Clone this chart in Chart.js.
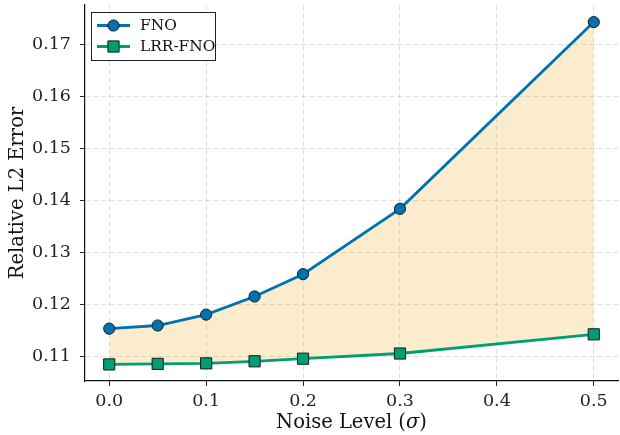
<!DOCTYPE html>
<html>
<head>
<meta charset="utf-8">
<script src="https://cdn.jsdelivr.net/npm/chart.js@4/dist/chart.umd.min.js"></script>
<style>
html,body{margin:0;padding:0;background:#fff;}
#wrap{width:620px;height:435px;position:relative;}
</style>
</head>
<body>
<div id="wrap"><canvas id="c" width="620" height="435"></canvas></div>
<script>
const noiseLevels = [0.0, 0.05, 0.1, 0.15, 0.2, 0.3, 0.5];
const fnoErrors = [0.1153, 0.1159, 0.1180, 0.1215, 0.1258, 0.1384, 0.1744];
const lrrErrors = [0.1084, 0.1085, 0.1086, 0.1090, 0.1095, 0.1105, 0.1142];
const seriesNames = ['FNO', 'LRR-FNO'];
const xTicks = [0.0, 0.1, 0.2, 0.3, 0.4, 0.5];
const yTicks = [0.11, 0.12, 0.13, 0.14, 0.15, 0.16, 0.17];
const xTitleParts = ['Noise Level (', 'σ', ')'];

const FONT = "'DejaVu Serif', serif";
const BLUE = '#0072B2', GREEN = '#009E73', EDGE = '#1a1a1a';

const legendPlugin = {
  id: 'boxLegend',
  afterDraw(chart) {
    const ctx = chart.ctx;
    const x0 = 91.5, y0 = 12.5, w = 124, h = 48;
    ctx.save();
    ctx.fillStyle = 'rgba(255,255,255,0.85)';
    ctx.fillRect(x0, y0, w, h);
    ctx.strokeStyle = '#222';
    ctx.lineWidth = 1;
    ctx.strokeRect(x0, y0, w, h);
    chart.data.datasets.forEach((ds, i) => {
      const cy = 25.5 + i * 21;
      ctx.strokeStyle = ds.borderColor;
      ctx.lineWidth = 2.8;
      ctx.beginPath(); ctx.moveTo(97, cy); ctx.lineTo(130, cy); ctx.stroke();
      ctx.fillStyle = ds.pointBackgroundColor;
      ctx.strokeStyle = EDGE; ctx.lineWidth = 1;
      ctx.beginPath();
      if (ds.pointStyle === 'rect') { ctx.rect(113.5 - 5.6, cy - 5.6, 11.2, 11.2); }
      else { ctx.arc(113.5, cy, 5.6, 0, Math.PI * 2); }
      ctx.fill(); ctx.stroke();
      ctx.fillStyle = '#111';
      ctx.font = '15.4px ' + FONT;
      ctx.textBaseline = 'middle';
      ctx.textAlign = 'left';
      ctx.fillText(ds.label, 140, cy + 0.5);
    });
    ctx.restore();
  }
};

const xTitlePlugin = {
  id: 'xTitle',
  afterDraw(chart) {
    const ctx = chart.ctx;
    const area = chart.chartArea;
    ctx.save();
    ctx.fillStyle = '#111';
    ctx.textBaseline = 'middle';
    ctx.textAlign = 'left';
    const fonts = ['19.5px ' + FONT, 'italic 19.5px ' + FONT, '19.5px ' + FONT];
    let total = 0;
    const widths = xTitleParts.map((t, i) => { ctx.font = fonts[i]; const w = ctx.measureText(t).width; total += w; return w; });
    let x = (area.left + area.right) / 2 - total / 2;
    xTitleParts.forEach((t, i) => { ctx.font = fonts[i]; ctx.fillText(t, x, 423); x += widths[i]; });
    ctx.restore();
  }
};

new Chart(document.getElementById('c'), {
  type: 'line',
  data: {
    datasets: [
      {
        label: seriesNames[0],
        data: noiseLevels.map((x, i) => ({x: x, y: fnoErrors[i]})),
        borderColor: BLUE, borderWidth: 2.8,
        pointStyle: 'circle', pointRadius: 5.6, pointBackgroundColor: BLUE,
        pointBorderColor: EDGE, pointBorderWidth: 1,
        backgroundColor: 'rgba(230,159,0,0.2)',
        fill: '+1', tension: 0, clip: false
      },
      {
        label: seriesNames[1],
        data: noiseLevels.map((x, i) => ({x: x, y: lrrErrors[i]})),
        borderColor: GREEN, borderWidth: 2.8,
        pointStyle: 'rect', pointRadius: 7.9, pointBackgroundColor: GREEN,
        pointBorderColor: EDGE, pointBorderWidth: 1,
        fill: false, tension: 0, clip: false
      }
    ]
  },
  options: {
    responsive: false,
    animation: false,
    layout: {autoPadding: false, padding: {top: 5, right: 2, left: 0, bottom: 0}},
    plugins: {
      legend: {display: false},
      tooltip: {enabled: false},
      filler: {drawTime: 'beforeDatasetsDraw'}
    },
    scales: {
      x: {
        type: 'linear', min: -0.025, max: 0.525,
        afterBuildTicks: s => { s.ticks = xTicks.map(v => ({value: v})); },
        afterFit: s => { s.height = 54; s.paddingLeft = 0; s.paddingRight = 0; },
        ticks: {color: '#222', font: {family: FONT, size: 17.5}, padding: 5,
                callback: v => v.toFixed(1)},
        grid: {color: 'rgba(176,176,176,0.4)', lineWidth: 1, tickLength: 5,
               tickColor: '#222', tickWidth: 1, tickBorderDash: [0, 0]},
        border: {display: true, color: '#111', width: 1.2, dash: [5, 3]},
        title: {display: false}
      },
      y: {
        type: 'linear', min: 0.1052, max: 0.1777,
        afterBuildTicks: s => { s.ticks = yTicks.map(v => ({value: v})); },
        afterFit: s => { s.width = 85; s.paddingTop = 0; s.paddingBottom = 0; },
        ticks: {color: '#222', font: {family: FONT, size: 17.5}, padding: 9,
                callback: v => v.toFixed(2)},
        grid: {color: 'rgba(176,176,176,0.4)', lineWidth: 1, tickLength: 5,
               tickColor: '#222', tickWidth: 1, tickBorderDash: [0, 0]},
        border: {display: true, color: '#111', width: 1.2, dash: [5, 3]},
        title: {display: true, text: 'Relative L2 Error', color: '#111',
                font: {family: FONT, size: 19.5}, padding: {top: 6, bottom: 0}}
      }
    }
  },
  plugins: [legendPlugin, xTitlePlugin]
});
</script>
</body>
</html>
